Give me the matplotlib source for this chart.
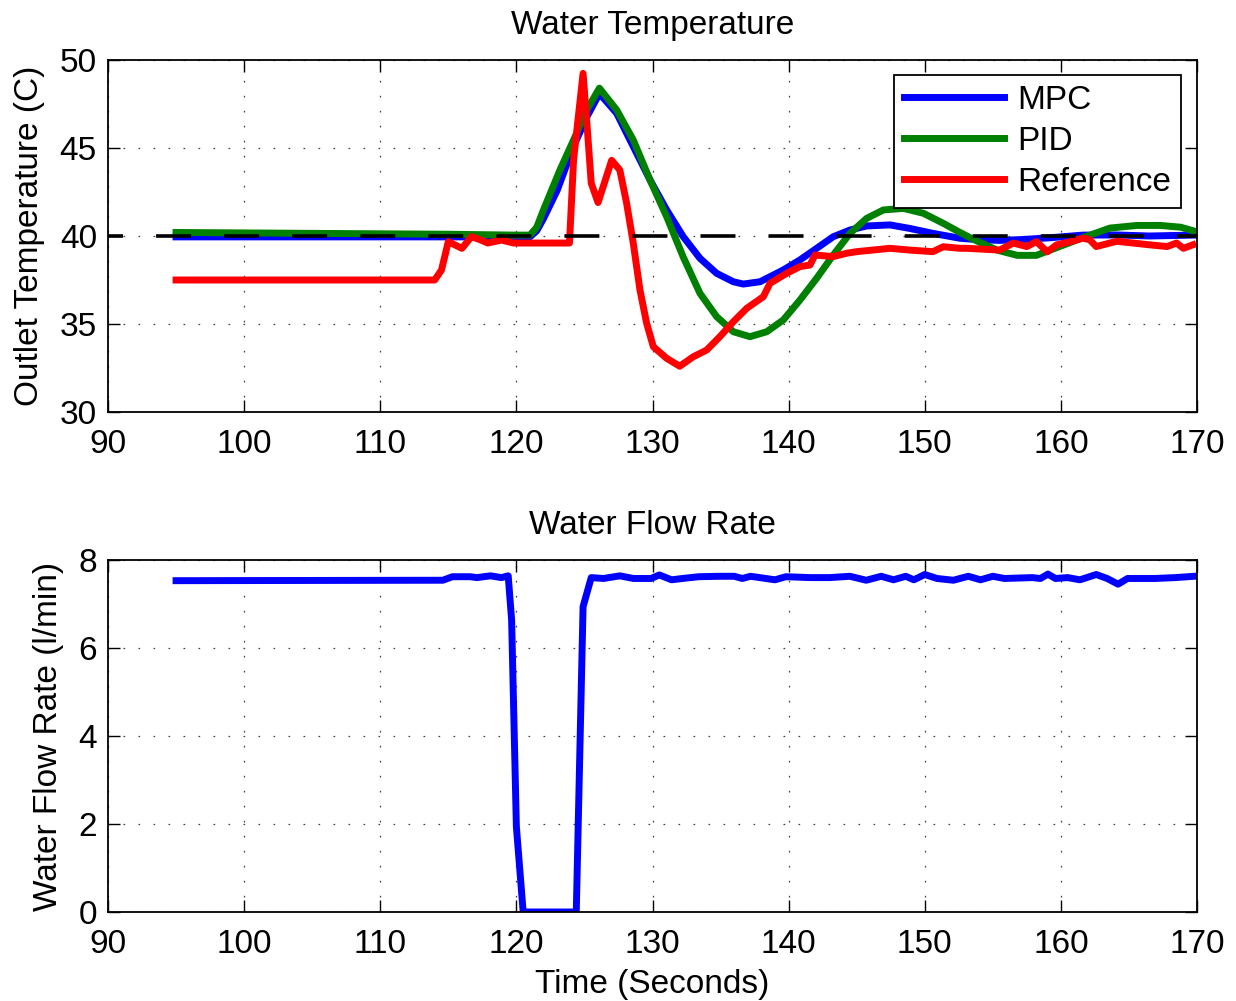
import matplotlib
matplotlib.use("Agg")
import matplotlib.pyplot as plt

plt.rcParams['font.family'] = ['Liberation Sans', 'DejaVu Sans']
plt.rcParams['lines.scale_dashes'] = False

# ---------------- data ----------------
t_mpc = [95, 105, 115, 121.0, 121.5, 122.0, 123.0, 124.2, 125.2, 126.1, 127.37, 128.59,
         129.82, 131.04, 132.26, 133.49, 134.71, 135.94, 136.67, 137.9, 139.61, 140.83,
         142.06, 143.28, 144.51, 145.73, 147.45, 148.9, 150.6, 152.59, 153.8, 155.5,
         157.2, 159.2, 161.6, 164.1, 166.5, 169.7]
mpc = [39.95, 39.95, 39.95, 39.95, 40.3, 41.0, 42.6, 45.1, 46.8, 48.1, 46.97, 45.08,
       43.18, 41.48, 39.96, 38.73, 37.88, 37.4, 37.27, 37.4, 38.07, 38.64,
       39.3, 39.96, 40.34, 40.57, 40.63, 40.43, 40.15, 39.87, 39.8, 39.75,
       39.8, 39.9, 40.05, 40.06, 40.0, 40.05]

t_pid = [95, 105, 115, 120, 121.0, 121.5, 122.0, 123.2, 124.2, 125.2, 126.1, 127.37,
         128.59, 129.82, 131.04, 132.26, 133.49, 134.71, 135.94, 137.16, 138.39, 139.61,
         140.83, 142.06, 143.28, 144.51, 145.73, 146.96, 148.43, 149.9, 151.36, 152.59,
         153.6, 155.3, 156.8, 158.2, 159.9, 161.6, 163.6, 165.6, 167.3, 168.8, 169.7]
pid = [40.2, 40.15, 40.1, 40.05, 40.05, 40.5, 41.5, 43.75, 45.45, 47.2, 48.4, 47.16,
       45.45, 43.18, 41.1, 38.8, 36.74, 35.42, 34.56, 34.28, 34.56, 35.23,
       36.36, 37.6, 38.92, 40.15, 41.0, 41.48, 41.57, 41.29, 40.72, 40.2,
       39.8, 39.2, 38.9, 38.9, 39.4, 39.9, 40.45, 40.6, 40.6, 40.5, 40.3]

t_ref = [95, 114.0, 114.5, 115.0, 116.0, 116.7, 117.3, 117.9, 118.9, 119.8, 123.9,
         124.2, 124.9, 125.2, 125.5, 126.0, 127.0, 127.6, 128.1, 128.59, 129.08, 129.57,
         130.06, 131.04, 132.0, 133.0, 133.98, 134.95, 135.94, 136.92, 138.14, 138.63,
         139.86, 140.83, 141.57, 141.94, 143.28, 144.26, 145.0, 147.45, 148.9, 150.6,
         151.36, 152.59, 153.1, 155.5, 156.5, 157.5, 158.2, 159.0, 159.7, 160.7, 161.6,
         162.1, 162.6, 164.1, 165.3, 166.5, 167.8, 168.5, 169.0, 169.7]
ref = [37.5, 37.5, 38.07, 39.68, 39.3, 39.96, 39.8, 39.6, 39.77, 39.6, 39.6,
       44.3, 49.24, 46.2, 43.0, 41.9, 44.3, 43.75, 41.86, 39.58, 36.93, 35.04,
       33.71, 33.05, 32.6, 33.14, 33.52, 34.28, 35.13, 35.89, 36.55, 37.31,
       37.88, 38.26, 38.35, 38.92, 38.83, 39.02, 39.11, 39.3, 39.2, 39.11,
       39.39, 39.3, 39.3, 39.2, 39.6, 39.4, 39.68, 39.1, 39.5, 39.68, 39.87,
       39.8, 39.4, 39.7, 39.6, 39.5, 39.4, 39.6, 39.3, 39.5]

setpoint = 40.0

t_flow = [95, 114.6, 115.3, 116.6, 117.1, 118.1, 118.9, 119.4, 119.65, 120.0, 120.5,
          124.4, 124.9, 125.5, 126.4, 127.6, 128.6, 129.9, 130.5, 131.4, 132.2, 133.4,
          134.9, 136.0, 136.6, 137.2, 139.0, 139.8, 141.6, 143.0, 144.5, 145.7, 146.8,
          147.7, 148.6, 149.2, 150.0, 150.9, 152.1, 153.2, 154.1, 155.0, 155.85, 157.9,
          158.5, 159.05, 159.6, 160.5, 161.4, 162.6, 163.4, 164.2, 164.9, 166.9, 168.4,
          169.8]
flow = [7.53, 7.54, 7.62, 7.62, 7.6, 7.64, 7.6, 7.64, 6.64, 1.94, 0.0,
        0.0, 6.94, 7.6, 7.58, 7.64, 7.58, 7.58, 7.66, 7.55, 7.58, 7.62,
        7.63, 7.63, 7.58, 7.63, 7.55, 7.62, 7.6, 7.6, 7.63, 7.54, 7.63,
        7.55, 7.63, 7.55, 7.67, 7.58, 7.54, 7.63, 7.55, 7.63, 7.58, 7.6,
        7.58, 7.68, 7.58, 7.6, 7.55, 7.67, 7.58, 7.45, 7.58, 7.58, 7.6,
        7.63]

x_ticks = [90, 100, 110, 120, 130, 140, 150, 160, 170]
temp_ticks = [30, 35, 40, 45, 50]
flow_ticks = [0, 2, 4, 6, 8]

# ---------------- figure ----------------
FS = 24
fig = plt.figure(figsize=(12.36, 10.01), dpi=100)
ax1 = fig.add_axes([108/1236, 1-412/1001, 1089/1236, 352/1001])
ax2 = fig.add_axes([108/1236, 1-912/1001, 1089/1236, 352/1001])

grid_kw = dict(color='0.25', linewidth=0.9, linestyle=(0, (1.2, 9.6)))

def style(ax):
    ax.set_xlim(90, 170)
    ax.set_xticks(x_ticks)
    ax.tick_params(direction='in', length=8.5, width=1.0, labelsize=FS,
                   top=True, right=True)
    ax.tick_params(axis='x', pad=12)
    ax.tick_params(axis='y', pad=8)
    for s in ax.spines.values():
        s.set_linewidth(1.3)
    ax.grid(True, **grid_kw)
    ax.set_axisbelow(True)

lw = 5
ax1.plot(t_mpc, mpc, color='#0000ff', lw=lw, label='MPC', solid_joinstyle='round')
ax1.plot(t_pid, pid, color='#008000', lw=lw, label='PID', solid_joinstyle='round')
ax1.plot(t_ref, ref, color='#ff0000', lw=lw, label='Reference', solid_joinstyle='round')
ax1.plot([90, 170], [setpoint, setpoint], color='black', lw=2.6,
         linestyle=(14.4, (25.2, 23.8)), zorder=5)
style(ax1)
ax1.set_ylim(30, 50)
ax1.set_yticks(temp_ticks)
ax1.set_title('Water Temperature', fontsize=FS, pad=19)
ax1.set_ylabel('Outlet Temperature (C)', fontsize=FS)
ax1.yaxis.set_label_coords((45 - 108) / 1089, 0.5)
leg = ax1.legend(loc='upper right', bbox_to_anchor=(1181/1236, 1-75/1001),
                 bbox_transform=fig.transFigure, fontsize=FS, frameon=True,
                 fancybox=False, edgecolor='black', framealpha=1,
                 handlelength=3.0, handletextpad=0.4, labelspacing=0.3,
                 borderpad=0.3, borderaxespad=0)
leg.get_frame().set_linewidth(1.3)

ax2.plot(t_flow, flow, color='#0000ff', lw=lw, solid_joinstyle='round')
style(ax2)
ax2.set_ylim(0, 8)
ax2.set_yticks(flow_ticks)
ax2.set_title('Water Flow Rate', fontsize=FS, pad=19)
ax2.set_ylabel('Water Flow Rate (l/min)', fontsize=FS)
ax2.yaxis.set_label_coords((64 - 108) / 1089, 0.5)
ax2.set_xlabel('Time (Seconds)', fontsize=FS, labelpad=7)

fig.savefig('out.png', dpi=100)
